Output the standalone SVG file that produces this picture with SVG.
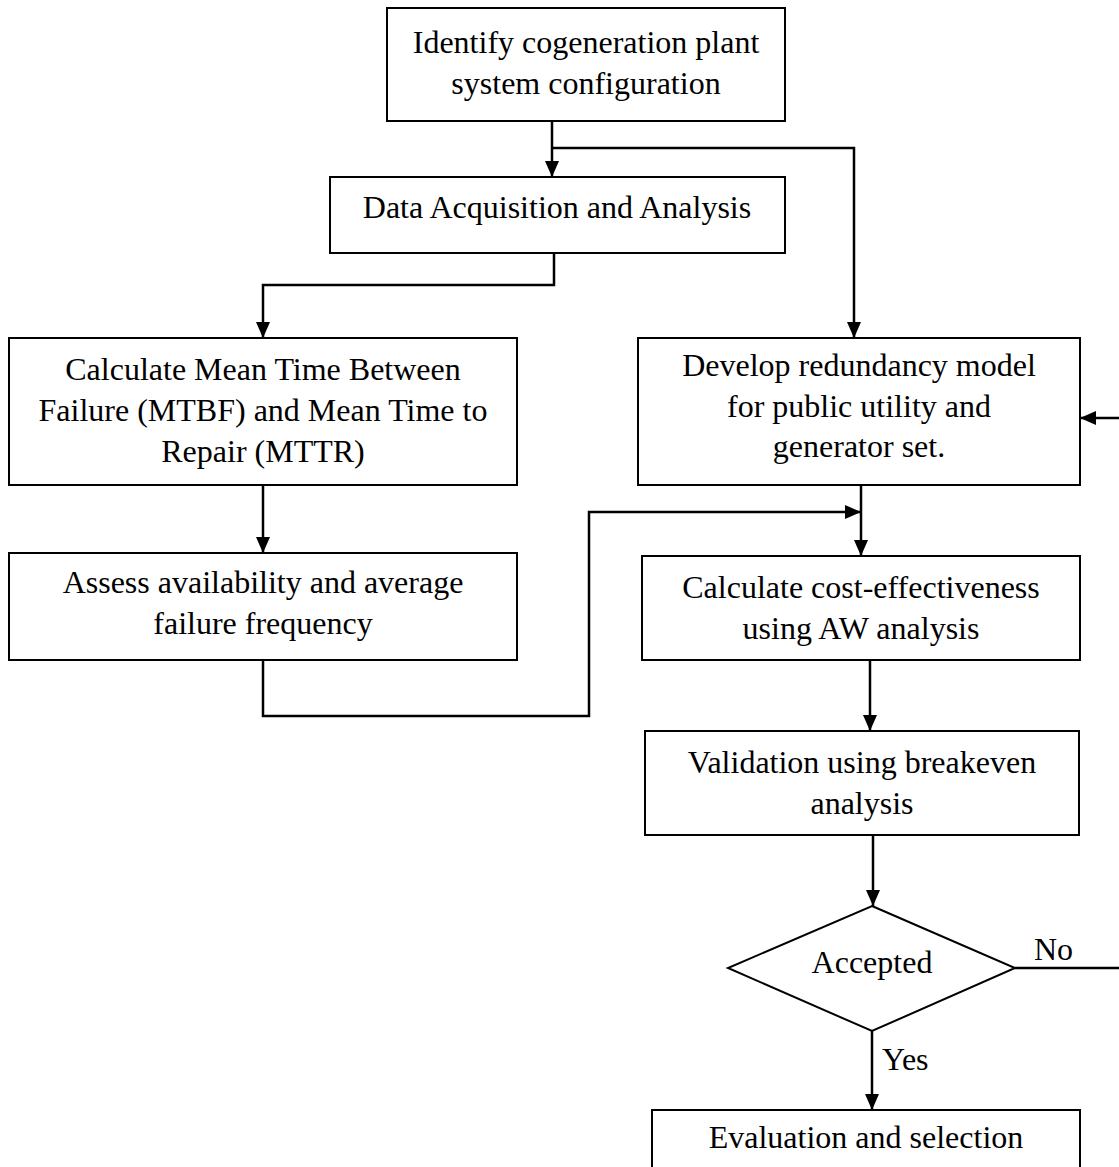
<svg xmlns="http://www.w3.org/2000/svg" width="1119" height="1167" viewBox="0 0 1119 1167">
<style>
.box{fill:#fff;stroke:#000;stroke-width:2}
.t{font-family:"Liberation Serif","Times New Roman",serif;font-size:32px;fill:#000;text-anchor:middle}
.l{font-family:"Liberation Serif","Times New Roman",serif;font-size:32px;fill:#000}
.c{fill:none;stroke:#000;stroke-width:2.5}
</style>
<defs>
<marker id="ah" viewBox="0 0 16 14" refX="16" refY="7" markerWidth="16" markerHeight="14" markerUnits="userSpaceOnUse" orient="auto">
<path d="M0,0 L16,7 L0,14 Z" fill="#000"/>
</marker>
</defs>
<rect width="1119" height="1167" fill="#fff"/>
<g id="connectors">
<path class="c" d="M552,121 V177" marker-end="url(#ah)"/>
<path class="c" d="M552,148 H854 V338" marker-end="url(#ah)"/>
<path class="c" d="M554,253 V285 H263 V338" marker-end="url(#ah)"/>
<path class="c" d="M263,485 V553" marker-end="url(#ah)"/>
<path class="c" d="M263,660 V716 H589 V512 H861" marker-end="url(#ah)"/>
<path class="c" d="M861,485 V556" marker-end="url(#ah)"/>
<path class="c" d="M870,660 V731" marker-end="url(#ah)"/>
<path class="c" d="M873,835 V906" marker-end="url(#ah)"/>
<path class="c" d="M872,1031 V1110" marker-end="url(#ah)"/>
<path class="c" d="M1015,968 H1119"/>
<path class="c" d="M1119,418 H1080" marker-end="url(#ah)"/>
<text class="l" x="1034" y="960">No</text>
<text class="l" x="882" y="1070">Yes</text>
</g>
<g id="n1"><rect class="box" x="387" y="8" width="398" height="113"/>
<text class="t" x="586" y="53">Identify cogeneration plant</text>
<text class="t" x="586" y="94">system configuration</text></g>
<g id="n2"><rect class="box" x="330" y="177" width="455" height="76"/>
<text class="t" x="557" y="218">Data Acquisition and Analysis</text></g>
<g id="n3"><rect class="box" x="9" y="338" width="508" height="147"/>
<text class="t" x="263" y="380">Calculate Mean Time Between</text>
<text class="t" x="263" y="421">Failure (MTBF) and Mean Time to</text>
<text class="t" x="263" y="462">Repair (MTTR)</text></g>
<g id="n4"><rect class="box" x="9" y="553" width="508" height="107"/>
<text class="t" x="263" y="593">Assess availability and average</text>
<text class="t" x="263" y="634">failure frequency</text></g>
<g id="n5"><rect class="box" x="638" y="338" width="442" height="147"/>
<text class="t" x="859" y="376">Develop redundancy model</text>
<text class="t" x="859" y="417">for public utility and</text>
<text class="t" x="859" y="457">generator set.</text></g>
<g id="n6"><rect class="box" x="642" y="556" width="438" height="104"/>
<text class="t" x="861" y="598">Calculate cost-effectiveness</text>
<text class="t" x="861" y="639">using AW analysis</text></g>
<g id="n7"><rect class="box" x="645" y="731" width="434" height="104"/>
<text class="t" x="862" y="773">Validation using breakeven</text>
<text class="t" x="862" y="814">analysis</text></g>
<g id="n8"><polygon class="box" points="872,906 1015,968 872,1031 728,968"/>
<text class="t" x="872" y="973">Accepted</text></g>
<g id="n9"><rect class="box" x="652" y="1110" width="428" height="80"/>
<text class="t" x="866" y="1148">Evaluation and selection</text></g>
</svg>
